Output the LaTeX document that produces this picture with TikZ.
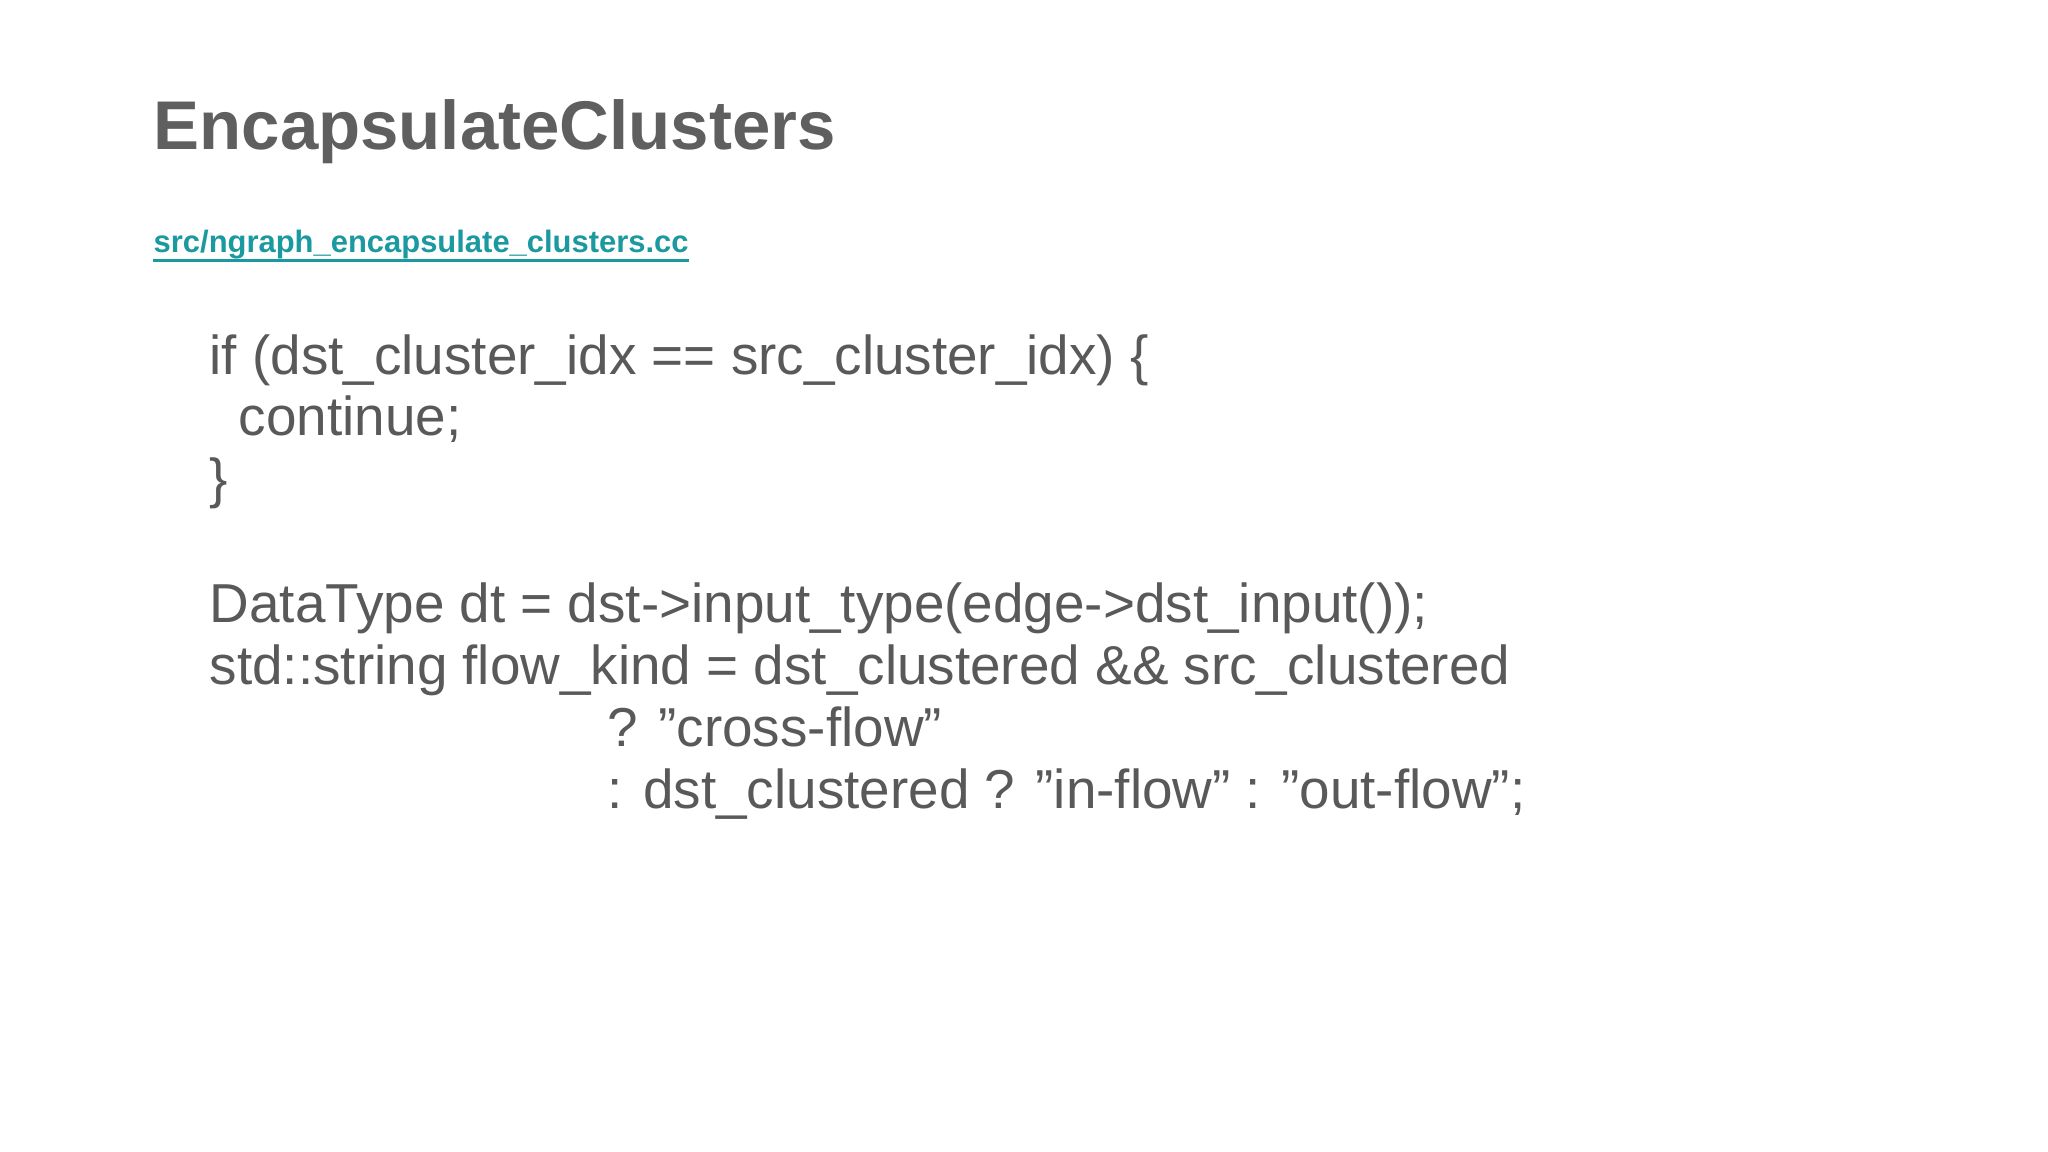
\documentclass[tikz,border=0pt]{standalone}
\usepackage{fontspec}
\setmainfont{Liberation Sans}
\definecolor{txt}{HTML}{595959}
\definecolor{ttl}{HTML}{5F5F5F}
\definecolor{lnk}{HTML}{1A9AA0}
\begin{document}
\begin{tikzpicture}[x=0.01cm,y=-0.01cm,
  code/.style={anchor=base west,inner sep=0pt,text=txt,font=\fontsize{15.6pt}{18pt}\selectfont}]
\useasboundingbox[fill=white] (0,0) rectangle (2048,1152);
\node[anchor=base west,inner sep=0pt,text=ttl,font=\fontsize{19.6pt}{24pt}\selectfont\bfseries] (title) at (153,150) {EncapsulateClusters};
\node[anchor=base west,inner sep=0pt,text=lnk,font=\fontsize{8.8pt}{10pt}\selectfont\bfseries] (link) at (153,253) {src/ngraph\_encapsulate\_clusters.cc};
\draw[lnk,line width=0.9pt] ([yshift=-2.2pt]link.base west) -- ([yshift=-2.2pt]link.base east);
\node[code] (l1) at (209,375) {if (dst\_cluster\_idx == src\_cluster\_idx) \{};
\node[code] (l2) at (238,436) {continue;};
\node[code] (l3) at (209,498) {\}};
\node[code] (l4) at (209,623) {DataType dt = dst->input\_type(edge->dst\_input());};
\node[code] (l5) at (209,685) {std::string flow\_kind = dst\_clustered \&\& src\_clustered};
\node[code] (l6) at (607,746) {? "cross-flow"};
\node[code] (l7) at (607,808) {: dst\_clustered ? "in-flow" : "out-flow";};
\end{tikzpicture}
\end{document}
